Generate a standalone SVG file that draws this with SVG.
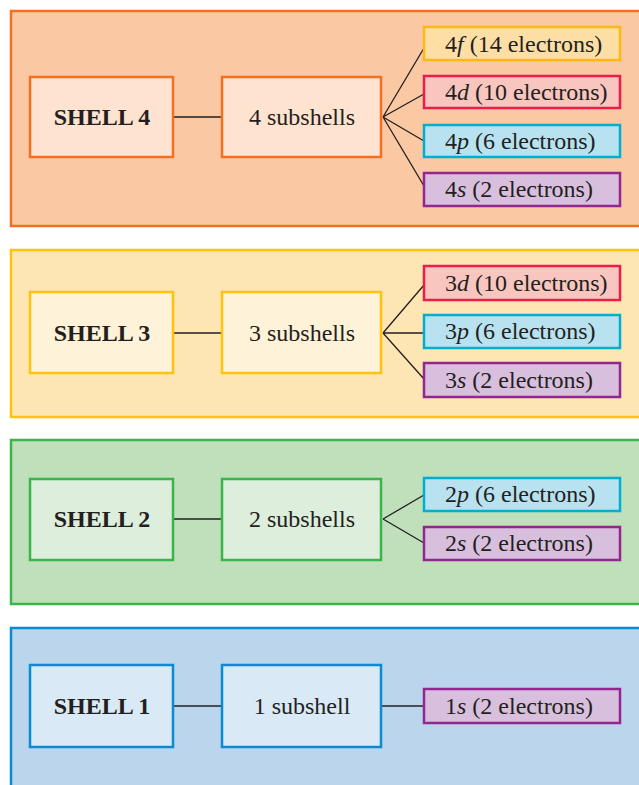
<svg xmlns="http://www.w3.org/2000/svg" width="639" height="785" viewBox="0 0 639 785">
<style>
text{font-family:"Liberation Serif","DejaVu Serif",serif;fill:#231F20;font-size:24px}
.sh{font-weight:bold;text-anchor:middle}
.sb{text-anchor:middle}
.lb{text-anchor:start}
.pn{stroke-width:2.5}
.bx{stroke-width:2.5}
.c{stroke:#231F20;stroke-width:1.3;fill:none}
.p4{fill:#FAC8A2;stroke:#F37021}.i4{fill:#FDE3D0;stroke:#F37021}
.p3{fill:#FDE6B4;stroke:#FFC20E}.i3{fill:#FEF2D8;stroke:#FFC20E}
.p2{fill:#C0DFBB;stroke:#3AB54A}.i2{fill:#DDEEDC;stroke:#3AB54A}
.p1{fill:#BAD5EC;stroke:#0A8BD2}.i1{fill:#DAE9F6;stroke:#0A8BD2}
.f{fill:#FDDFA6;stroke:#FDB913}.d{fill:#F8C6BE;stroke:#ED1C4A}
.p{fill:#B8E2F0;stroke:#00AECF}.s{fill:#D8BFDD;stroke:#92278F}
</style>
<rect width="639" height="785" fill="#fff"/>
<g id="panel4"><rect class="pn p4" x="11" y="11" width="640" height="215"/></g>
<g id="panel3"><rect class="pn p3" x="11" y="250" width="640" height="167"/></g>
<g id="panel2"><rect class="pn p2" x="11" y="440" width="640" height="164"/></g>
<g id="panel1"><rect class="pn p1" x="11" y="628" width="640" height="170"/></g>
<g id="connectors">
<path class="c" d="M173 117H222M383 117L424 48M383 117L424 94M383 117L424 141M383 117L424 186"/>
<path class="c" d="M173 333H222M383 333L424 285M383 333H424M383 333L424 379"/>
<path class="c" d="M173 519H222M383 519L424 495M383 519L424 543"/>
<path class="c" d="M173 706H222M381 706H424"/>
</g>
<g id="shell4"><rect class="bx i4" x="30" y="77" width="143" height="80"/><text class="sh" x="102" y="125">SHELL 4</text></g>
<g id="sub4"><rect class="bx i4" x="222" y="77" width="159" height="80"/><text class="sb" x="302" y="125">4 subshells</text></g>
<g id="s4f"><rect class="bx f" x="424" y="27" width="196" height="33"/><text class="lb" x="445" y="52">4<tspan font-style="italic">f</tspan> (14 electrons)</text></g>
<g id="s4d"><rect class="bx d" x="424" y="76" width="196" height="32"/><text class="lb" x="445" y="100">4<tspan font-style="italic">d</tspan> (10 electrons)</text></g>
<g id="s4p"><rect class="bx p" x="424" y="125" width="196" height="32"/><text class="lb" x="445" y="149">4<tspan font-style="italic">p</tspan> (6 electrons)</text></g>
<g id="s4s"><rect class="bx s" x="424" y="173" width="196" height="33"/><text class="lb" x="445" y="197">4<tspan font-style="italic">s</tspan> (2 electrons)</text></g>
<g id="shell3"><rect class="bx i3" x="30" y="292" width="143" height="81"/><text class="sh" x="102" y="341">SHELL 3</text></g>
<g id="sub3"><rect class="bx i3" x="222" y="292" width="159" height="81"/><text class="sb" x="302" y="341">3 subshells</text></g>
<g id="s3d"><rect class="bx d" x="424" y="266" width="196" height="34"/><text class="lb" x="445" y="291">3<tspan font-style="italic">d</tspan> (10 electrons)</text></g>
<g id="s3p"><rect class="bx p" x="424" y="315" width="196" height="33"/><text class="lb" x="445" y="339">3<tspan font-style="italic">p</tspan> (6 electrons)</text></g>
<g id="s3s"><rect class="bx s" x="424" y="363" width="196" height="34"/><text class="lb" x="445" y="388">3<tspan font-style="italic">s</tspan> (2 electrons)</text></g>
<g id="shell2"><rect class="bx i2" x="30" y="479" width="143" height="81"/><text class="sh" x="102" y="527">SHELL 2</text></g>
<g id="sub2"><rect class="bx i2" x="222" y="479" width="159" height="81"/><text class="sb" x="302" y="527">2 subshells</text></g>
<g id="s2p"><rect class="bx p" x="424" y="478" width="196" height="33"/><text class="lb" x="445" y="502">2<tspan font-style="italic">p</tspan> (6 electrons)</text></g>
<g id="s2s"><rect class="bx s" x="424" y="527" width="196" height="33"/><text class="lb" x="445" y="551">2<tspan font-style="italic">s</tspan> (2 electrons)</text></g>
<g id="shell1"><rect class="bx i1" x="30" y="665" width="143" height="82"/><text class="sh" x="102" y="714">SHELL 1</text></g>
<g id="sub1"><rect class="bx i1" x="222" y="665" width="159" height="82"/><text class="sb" x="302" y="714">1 subshell</text></g>
<g id="s1s"><rect class="bx s" x="424" y="689" width="196" height="34"/><text class="lb" x="445" y="714">1<tspan font-style="italic">s</tspan> (2 electrons)</text></g>
</svg>
